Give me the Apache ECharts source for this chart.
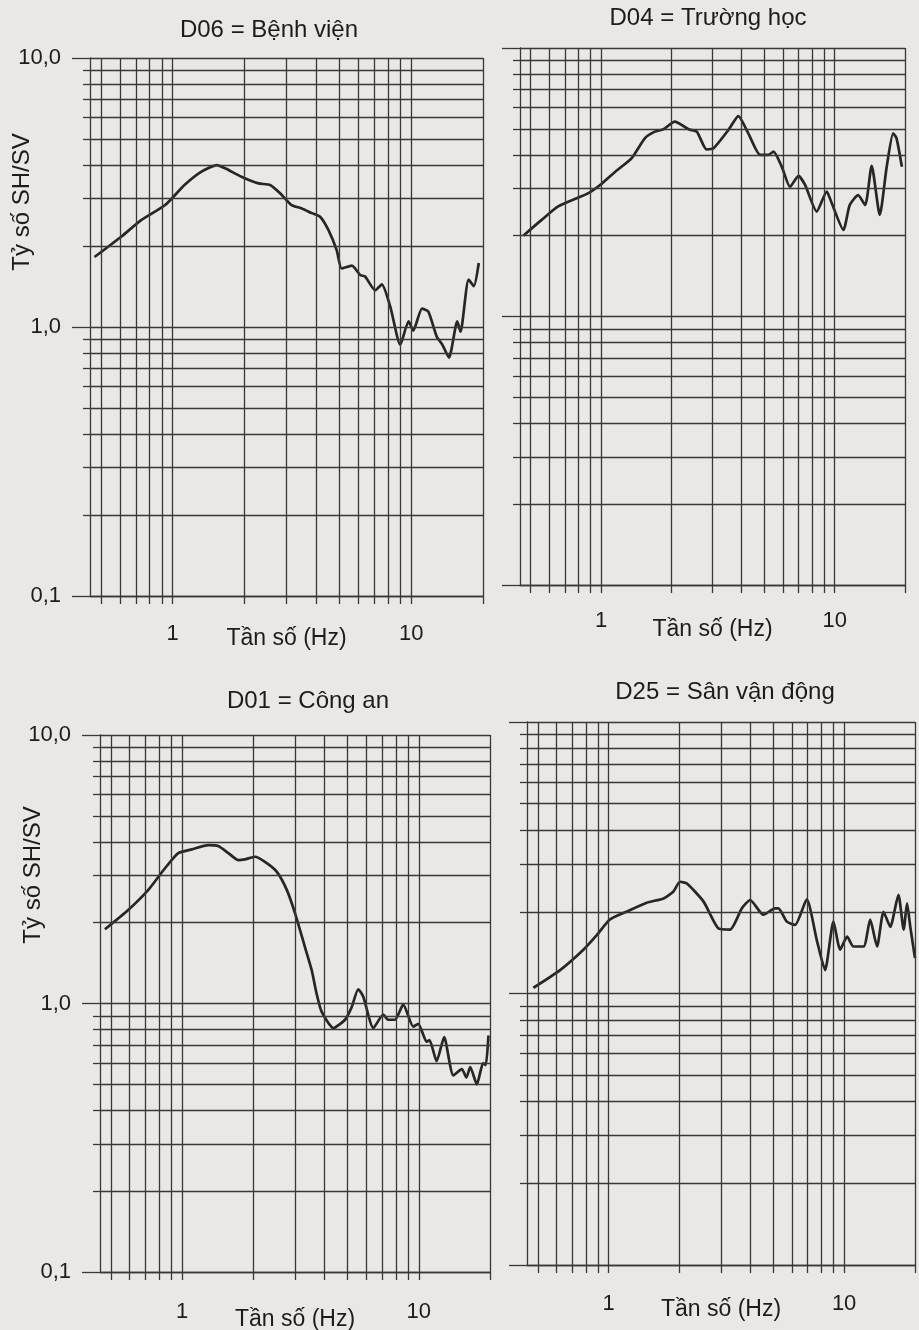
<!DOCTYPE html>
<html>
<head>
<meta charset="utf-8">
<script src="https://cdn.jsdelivr.net/npm/echarts@6/dist/echarts.min.js"></script>
<style>
  html, body { margin: 0; padding: 0; background: #eae7e4; }
  #chart { width: 919px; height: 1330px; }
</style>
</head>
<body>
<div id="chart"></div>
<script>
// ---- Data ----
const titles = ['D06 = Bệnh viện', 'D04 = Trường học', 'D01 = Công an', 'D25 = Sân vận động'];
const xAxisName = 'Tần số (Hz)';
const yAxisName = 'Tỷ số SH/SV';

const xTickValues = [1, 10];
const xTickLabels = ['1', '10'];
const yTickValues = [0.1, 1, 10];
const yTickLabels = ['0,1', '1,0', '10,0'];

const xGridValues = [0.5, 0.6, 0.7, 0.8, 0.9, 1, 2, 3, 4, 5, 6, 7, 8, 9, 10, 20];
const yGridValues = [0.1, 0.2, 0.3, 0.4, 0.5, 0.6, 0.7, 0.8, 0.9, 1, 2, 3, 4, 5, 6, 7, 8, 9, 10];
const yMinorValues = [0.2, 0.3, 0.4, 0.5, 0.6, 0.7, 0.8, 0.9, 2, 3, 4, 5, 6, 7, 8, 9];

const freqD06 = [0.47,0.61,0.74,0.93,1.12,1.32,1.53,1.66,1.94,2.29,2.56,2.82,3.15,3.48,3.83,4.15,4.5,4.87,5.11,5.64,6.11,6.41,7.06,7.53,8.17,9.0,9.75,10.2,11.1,11.8,12.8,13.5,14.4,15.6,16.1,17.4,18.3,19.2];
const ratioD06 = [1.82,2.17,2.5,2.84,3.37,3.78,4.0,3.89,3.62,3.42,3.37,3.14,2.84,2.76,2.65,2.57,2.29,1.93,1.65,1.69,1.56,1.54,1.37,1.44,1.19,0.86,1.05,0.97,1.17,1.14,0.92,0.86,0.77,1.05,0.96,1.5,1.42,1.73];

const freqD04 = [0.465,0.557,0.656,0.882,1.01,1.15,1.35,1.54,1.70,1.85,2.07,2.37,2.57,2.83,3.03,3.51,3.87,4.27,4.8,5.2,5.47,5.94,6.44,7.0,7.47,8.38,9.25,9.72,10.9,11.6,12.6,13.5,14.4,15.6,16.7,17.8,18.4,19.4];
const ratioD04 = [2.0,2.29,2.57,2.88,3.13,3.46,3.88,4.61,4.88,4.98,5.32,4.98,4.88,4.19,4.23,4.95,5.58,4.81,4.0,4.0,4.11,3.61,3.04,3.34,3.09,2.46,2.92,2.64,2.1,2.6,2.83,2.6,3.64,2.39,3.61,4.81,4.61,3.61];

const freqD01 = [0.472,0.592,0.72,0.847,0.964,1.1,1.29,1.42,1.57,1.73,1.84,2.03,2.24,2.51,2.77,3.0,3.3,3.53,3.7,3.89,4.36,4.88,5.21,5.55,5.83,6.43,7.08,7.43,7.93,8.6,9.48,9.95,10.8,11.1,11.9,12.8,14.0,15.2,15.9,16.5,17.6,18.7,19.2,19.7];
const ratioD01 = [1.89,2.23,2.65,3.19,3.63,3.75,3.89,3.86,3.63,3.42,3.44,3.52,3.37,3.1,2.65,2.17,1.63,1.33,1.09,0.93,0.81,0.87,0.97,1.13,1.06,0.81,0.91,0.87,0.87,0.99,0.82,0.84,0.72,0.73,0.61,0.75,0.54,0.57,0.53,0.58,0.5,0.6,0.59,0.76];

const freqD25 = [0.479,0.622,0.781,0.89,1.01,1.19,1.45,1.71,1.88,2.01,2.15,2.53,2.92,3.28,3.68,3.99,4.54,5.09,5.26,5.71,6.19,6.94,7.66,8.3,9.01,9.62,10.3,10.95,12.1,12.9,13.8,14.7,15.7,17.0,17.9,18.5,19.1,20];
const ratioD25 = [1.05,1.22,1.45,1.64,1.87,2.0,2.16,2.24,2.37,2.58,2.54,2.18,1.74,1.72,2.06,2.21,1.95,2.06,2.06,1.84,1.79,2.22,1.57,1.22,1.84,1.45,1.62,1.49,1.49,1.87,1.49,2.0,1.76,2.31,1.72,2.15,1.76,1.35];

const freqs = [freqD06, freqD04, freqD01, freqD25];
const ratios = [ratioD06, ratioD04, ratioD01, ratioD25];

// ---- Layout / style ----
const grids = [
  { left: 90,  top: 58,  width: 393, height: 538 },
  { left: 520, top: 48,  width: 385, height: 537 },
  { left: 100, top: 735, width: 390, height: 537 },
  { left: 527, top: 722, width: 388, height: 543 }
];
const showYLabels = [true, false, true, false];
const xLabelMargin = [27, 25, 29, 28];
const xNameGap = [31, 33, 36, 33];
const titlePos = [[269, 30], [708, 18], [308, 701], [725, 692]];
const yNamePos = [[22, 202], null, [33, 875], null];

const INK = '#1c1c1c';
const GRID = '#383838';
const FONT = '"Liberation Sans", Arial, sans-serif';

function near(a, b) { return Math.abs(Math.log10(a) - Math.log10(b)) < 1e-6; }
function fmt(values, labels) {
  return function (v) {
    for (let i = 0; i < values.length; i++) if (near(v, values[i])) return labels[i];
    return '';
  };
}

const lineGrid = { color: GRID, width: 1.3 };

const yMain = grids.map((g, i) => ({
  type: 'log', logBase: 10, gridIndex: i, min: 0.1, max: 10,
  axisLine: { show: true, lineStyle: lineGrid },
  axisTick: { show: true, customValues: yTickValues, length: 18, lineStyle: lineGrid },
  axisLabel: { show: showYLabels[i], customValues: yTickValues, formatter: fmt(yTickValues, yTickLabels),
    margin: 29, fontSize: 22, color: INK, fontFamily: FONT },
  splitLine: { show: false }
}));
const yMinor = grids.map((g, i) => ({
  type: 'log', logBase: 10, gridIndex: i, min: 0.1, max: 10, position: 'left', offset: 0,
  axisLine: { show: false },
  axisTick: { show: true, customValues: yMinorValues, length: 7, lineStyle: lineGrid },
  axisLabel: { show: false },
  splitLine: { show: false }
}));

const option = {
  backgroundColor: '#eae7e4',
  animation: false,
  grid: grids.map(g => Object.assign({ containLabel: false, outerBoundsMode: 'none' }, g)),
  xAxis: grids.map((g, i) => ({
    type: 'log', logBase: 10, gridIndex: i, min: 0.45, max: 20,
    axisLine: { show: true, lineStyle: lineGrid },
    axisTick: { show: true, customValues: xGridValues, length: 8, lineStyle: lineGrid },
    axisLabel: { show: true, customValues: xTickValues, formatter: fmt(xTickValues, xTickLabels),
      margin: xLabelMargin[i], fontSize: 22, color: INK, fontFamily: FONT },
    splitLine: { show: false },
    name: xAxisName, nameLocation: 'middle', nameGap: xNameGap[i], nameMoveOverlap: false,
    nameTextStyle: { fontSize: 23, color: INK, fontFamily: FONT }
  })),
  yAxis: yMain.concat(yMinor),
  graphic: [].concat(
    titles.map((t, i) => ({
      type: 'text', x: titlePos[i][0], y: titlePos[i][1], silent: true,
      style: { text: t, font: '24px ' + FONT, fill: INK, align: 'center', verticalAlign: 'middle' }
    })),
    yNamePos.filter(p => p).map(p => ({
      type: 'text', x: p[0], y: p[1], rotation: Math.PI / 2, silent: true,
      style: { text: yAxisName, font: '24px ' + FONT, fill: INK, align: 'center', verticalAlign: 'middle' }
    }))
  ),
  series: freqs.map((fs, i) => ({
    type: 'line', xAxisIndex: i, yAxisIndex: i,
    data: fs.map((f, k) => [f, ratios[i][k]]),
    showSymbol: false, smooth: 0.2,
    lineStyle: { color: '#262626', width: 2.7 },
    markLine: {
      silent: true, symbol: ['none', 'none'], label: { show: false },
      lineStyle: { color: GRID, width: 1.3, type: 'solid' },
      emphasis: { disabled: true },
      data: xGridValues.map(v => ({ xAxis: v })).concat(yGridValues.map(v => ({ yAxis: v })))
    }
  }))
};

const chart = echarts.init(document.getElementById('chart'), null, { renderer: 'canvas' });
chart.setOption(option);
</script>
</body>
</html>
